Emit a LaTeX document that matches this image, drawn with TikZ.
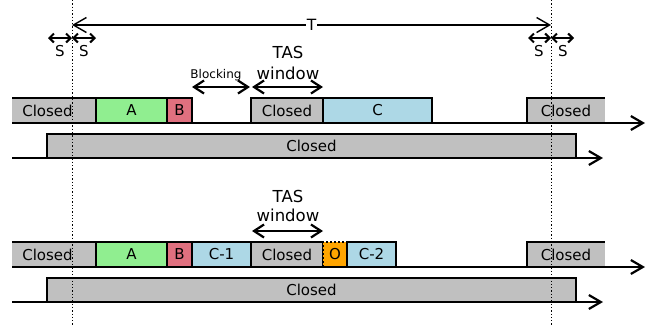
\documentclass[tikz,border=0pt]{standalone}
\usepackage{fontspec}
\setmainfont{DejaVu Sans}
\usetikzlibrary{arrows.meta}
\definecolor{closedgray}{HTML}{C0C0C0}
\definecolor{agreen}{HTML}{90EE90}
\definecolor{bred}{HTML}{E0707F}
\definecolor{cblue}{HTML}{ADD8E6}
\definecolor{oorange}{HTML}{FFA500}
\begin{document}
\begin{tikzpicture}[x=1pt,y=-1pt,
  slot/.style={draw, line width=2.2pt, inner sep=0pt, outer sep=0pt,
    anchor=north west, minimum height=25pt,
    font=\fontsize{15}{17}\selectfont},
  openslot/.style={slot, draw=none},
  edge/.style={line width=2.2pt},
  timeline/.style={line width=2.2pt, -{Straight Barb[length=12pt,width=14pt]}},
  span/.style={line width=2.2pt, {Straight Barb[length=10pt,width=13pt]}-{Straight Barb[length=10pt,width=13pt]}},
  small/.style={line width=2pt, {Straight Barb[length=4.5pt,width=9pt]}-{Straight Barb[length=4.5pt,width=9pt]}},
  period/.style={line width=1.4pt, {Straight Barb[length=13pt,width=15pt]}-{Straight Barb[length=13pt,width=15pt]}},
  guide/.style={line width=0.9pt, dash pattern=on 1.3pt off 2pt},
  lbl/.style={inner sep=0pt, anchor=base, font=\fontsize{16.5}{19}\selectfont},
  slbl/.style={lbl, font=\fontsize{15}{17}\selectfont},
]
\useasboundingbox (0,0) rectangle (667,333);

% ---------- first schedule ----------
% the leading Closed slot runs in from before the left edge
\fill[closedgray] (12,98) rectangle (96,123);
\node[openslot, minimum width=97pt] (p0) at (-1,98) {Closed};
\node[slot, fill=agreen, minimum width=71pt] (pa) at (96,98) {A};
\node[slot, fill=bred, minimum width=25pt] (pb) at (167,98) {B};
\node[slot, fill=closedgray, minimum width=72pt] (pw) at (251,98) {Closed};
\node[slot, fill=cblue, minimum width=109pt] (pc) at (323,98) {C};
\node[openslot, fill=closedgray, minimum width=78pt] (pr) at (527,98) {Closed};
\draw[edge] ([xshift=13pt]p0.north west) -- (p0.north east);
\draw[edge] (pr.south west) -- (pr.north west) -- (pr.north east);
\coordinate (ps) at (12,123);
\coordinate (pe) at (645,123);
\draw[timeline] (ps) -- (pe);

\node[slot, fill=closedgray, minimum width=529pt, minimum height=24pt] (pg) at (47,134) {Closed};
\coordinate (qs) at (12,158);
\coordinate (qe) at (603,158);
\draw[timeline] (qs) -- (qe);

% spans above the first schedule
\coordinate (bl0) at (192,87);
\coordinate (bl1) at (250,87);
\coordinate (tw0) at (252,87);
\coordinate (tw1) at (323,87);
\draw[span] (bl0) -- (bl1);
\draw[span] (tw0) -- (tw1);
\node[lbl, font=\fontsize{12}{14}\selectfont] (blk) at (216,78) {Blocking};
\node[lbl] (tas1) at (288,58.3) {TAS};
\node[lbl] (win1) at (288,79.5) {window};

% ---------- second schedule ----------
\fill[closedgray] (12,242) rectangle (96,267);
\node[openslot, minimum width=97pt] (s0) at (-1,242) {Closed};
\node[slot, fill=agreen, minimum width=71pt] (sa) at (96,242) {A};
\node[slot, fill=bred, minimum width=25pt] (sb) at (167,242) {B};
\node[slot, fill=cblue, minimum width=59pt] (sc1) at (192,242) {C-1};
\node[slot, fill=closedgray, minimum width=72pt] (sw) at (251,242) {Closed};
\node[slot, fill=oorange, minimum width=24pt, dash pattern=on 2pt off 2pt] (so) at (323,242) {O};
\node[slot, fill=cblue, minimum width=49pt] (sc2) at (347,242) {C-2};
\node[openslot, fill=closedgray, minimum width=78pt] (sr) at (527,242) {Closed};
\draw[edge] ([xshift=13pt]s0.north west) -- (s0.north east);
\draw[edge] (sr.south west) -- (sr.north west) -- (sr.north east);
\coordinate (ss) at (12,267);
\coordinate (se) at (645,267);
\draw[timeline] (ss) -- (se);

\node[slot, fill=closedgray, minimum width=529pt, minimum height=24pt] (sg) at (47,278) {Closed};
\coordinate (ts) at (12,302);
\coordinate (te) at (603,302);
\draw[timeline] (ts) -- (te);

\coordinate (tw2) at (252,231);
\coordinate (tw3) at (323,231);
\draw[span] (tw2) -- (tw3);
\node[lbl] (tas2) at (288,202.3) {TAS};
\node[lbl] (win2) at (288,221.7) {window};

% ---------- period and guard bands ----------
\coordinate (g0t) at (72,0);
\coordinate (g0b) at (72,326);
\coordinate (g1t) at (551,0);
\coordinate (g1b) at (551,326);
\draw[guide] (g0t) -- (g0b);
\draw[guide] (g1t) -- (g1b);

\coordinate (t0) at (72,25);
\coordinate (t1) at (551,25);
\draw[period] (t0) -- (t1) node[midway, fill=white, inner sep=1pt, font=\fontsize{15.5}{17}\selectfont] (tl) {T};

\coordinate (sa0) at (48,38);
\coordinate (sa1) at (72,38);
\coordinate (sa2) at (96,38);
\coordinate (sb0) at (528,38);
\coordinate (sb1) at (551,38);
\coordinate (sb2) at (574,38);
\draw[small] (sa0) -- (sa1);
\draw[small] (sa1) -- (sa2);
\draw[small] (sb0) -- (sb1);
\draw[small] (sb1) -- (sb2);
\node[slbl] (s1) at (60,56.5) {S};
\node[slbl] (s2) at (84,56.5) {S};
\node[slbl] (s3) at (539,56.5) {S};
\node[slbl] (s4) at (563,56.5) {S};
\end{tikzpicture}
\end{document}
